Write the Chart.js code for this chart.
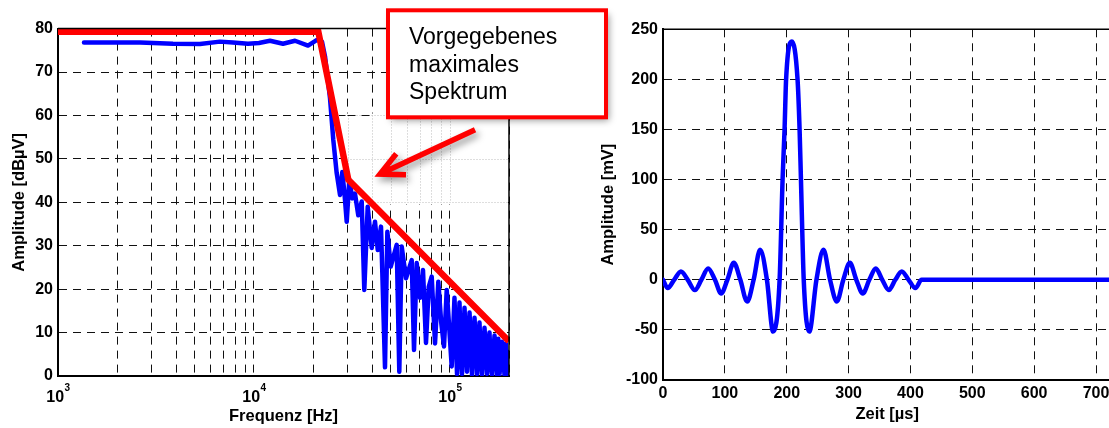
<!DOCTYPE html>
<html>
<head>
<meta charset="utf-8">
<script src="https://cdn.jsdelivr.net/npm/chart.js@4.4.0/dist/chart.umd.min.js"></script>
<style>
  html, body { margin: 0; padding: 0; background: #fff; overflow: hidden; width: 1109px; height: 428px; }
  #spectrum { position: absolute; left: 0; top: 0; z-index: 2; }
  #pulse { position: absolute; left: 590px; top: 0; z-index: 1; }
</style>
</head>
<body>
<canvas id="pulse" width="540" height="428"></canvas>
<canvas id="spectrum" width="620" height="428"></canvas>
<script>
// left: measured spectrum (Hz, dBµV)
const specFreq = [1357, 2620, 3860, 5300, 6700, 7810, 9320, 10600, 12070, 14060, 16190, 18860, 20960, 22230,
  23030, 24420, 25380, 26420, 27470, 28220, 28950, 29720, 30640, 31730, 32750, 34050, 35440, 36540, 38030,
  39860, 41430, 42800, 44460, 46600, 47900, 49840, 53460, 55120, 56700, 59640, 63770, 65520, 67630, 70300,
  72820, 75430, 77900, 80660, 83860, 87170, 90100, 93200, 96200, 98800, 102000, 105400, 108600, 111800,
  113500, 115150, 118600, 122100, 125800, 129500, 133400, 137400, 141400, 143500, 145600, 150000, 154500,
  159000, 161400, 163800, 168700, 173700, 176300, 178900, 184200, 189700, 192500, 195400, 200000];
const specLevel = [76.8, 76.8, 76.5, 76.45, 77.0, 76.8, 76.5, 76.7, 77.2, 76.5, 77.2, 76.1, 77.4, 77.0,
  73.6, 64, 54.4, 46.7, 41.7, 47, 42, 35.5, 45.2, 40.9, 42, 37, 40.2, 19.8, 39,
  29.5, 35.5, 29, 34.4, 2, 33.2, 25.2, 30.2, 1, 29.8, 22.5, 26.7, 6, 26, 18,
  24.4, 7.6, 20.5, 22.9, 7.5, 21.7, 12.5, 6.8, 19.8, 12, 2.2, 18, 0.5, 16.9,
  6, 0.5, 15.7, 1, 14.6, 0.3, 13.4, 0.5, 12.3, 4, 0.3, 11.1, 0.5,
  10, 3, 0.3, 9.3, 0.3, 8.6, 0.3, 7.9, 0.3, 7.5, 0.3, 5.5];

// given maximum spectrum (red)
const limitFreq = [1000, 21290, 30280, 200000];
const limitLevel = [79.3, 79.3, 45.2, 8];

const freqGrid = [1e3, 2e3, 3e3, 4e3, 5e3, 6e3, 7e3, 8e3, 9e3, 1e4, 2e4, 3e4, 4e4, 5e4, 6e4, 7e4, 8e4, 9e4, 1e5, 2e5];
const freqLabels = [1e3, 1e4, 1e5];
const levelTicks = [0, 10, 20, 30, 40, 50, 60, 70, 80];

// right: time signal (µs, mV)
const pulseTime = [0, 7.5, 18, 29, 40, 51.5, 62, 73, 84, 94, 104, 114.5, 125, 136, 146.5, 157, 168, 178,
  188.5, 193.3, 196.5, 199, 208.3, 217.5, 220.8, 223, 227.5, 236.5, 248, 259.5, 270, 281, 291.5, 302,
  312.5, 323, 333.5, 344, 354.5, 365, 375.5, 386, 397, 408, 418, 725];
const pulseVolt = [0, -8.3, 0, 8.3, 0, -10.3, 0, 11.3, 0, -13.7, 0, 17, 0, -21.7, 0, 30, 0, -51.7,
  0, 100, 150, 200, 237.7, 200, 150, 100, 0, -51.7, 0, 30, 0, -21.7, 0, 17,
  0, -13.7, 0, 11.3, 0, -10.3, 0, 8.3, 0, -8.3, 0, 0];
const timeTicks = [0, 100, 200, 300, 400, 500, 600, 700];
const voltTicks = [-100, -50, 0, 50, 100, 150, 200, 250];

const noteLines = ['Vorgegebenes', 'maximales', 'Spektrum'];
const arrowTip = [43950, 46.5];
const arrowTail = [134200, 56.7];

const FAMILY = "'Liberation Sans', Arial, Helvetica, sans-serif";
Chart.defaults.font.family = FAMILY;
Chart.defaults.color = '#000';

const tickFont = {size: 16, weight: 'bold'};
const titleFont = {size: 16.5, weight: 'bold'};
const gridStyle = {color: '#111', lineWidth: 1, drawTicks: false};
const borderStyle = {color: '#000', width: 2, dash: [8, 6]};

function toPoints(xs, ys) {
  return xs.map((x, i) => ({x: x, y: ys[i]}));
}

// top and right edges of the axes box
const boxPlugin = {
  id: 'axesBox',
  afterDatasetsDraw(chart) {
    const {ctx, chartArea: a} = chart;
    ctx.save();
    ctx.strokeStyle = '#000';
    ctx.lineWidth = 1.5;
    ctx.beginPath();
    ctx.moveTo(a.left, a.top);
    ctx.lineTo(a.right, a.top);
    ctx.lineTo(a.right, a.bottom);
    ctx.stroke();
    ctx.restore();
  }
};

// 10^n labels under the log axis
const decadePlugin = {
  id: 'decadeLabels',
  afterDraw(chart) {
    const {ctx, chartArea: a} = chart;
    const xs = chart.scales.x;
    ctx.save();
    ctx.fillStyle = '#000';
    ctx.textBaseline = 'alphabetic';
    freqLabels.forEach(v => {
      const px = xs.getPixelForValue(v);
      const exp = String(Math.round(Math.log10(v)));
      ctx.font = 'bold 16px ' + FAMILY;
      const w1 = ctx.measureText('10').width;
      ctx.font = 'bold 10px ' + FAMILY;
      const w2 = ctx.measureText(exp).width;
      const x0 = px - (w1 + w2) / 2;
      ctx.font = 'bold 16px ' + FAMILY;
      ctx.fillText('10', x0, a.bottom + 26);
      ctx.font = 'bold 10px ' + FAMILY;
      ctx.fillText(exp, x0 + w1 + 0.5, a.bottom + 14.5);
    });
    ctx.restore();
  }
};

// the pasted white patch with faint grid behind the arrow
const patchPlugin = {
  id: 'patch',
  beforeDatasetsDraw(chart) {
    const {ctx} = chart;
    const xs = chart.scales.x, ys = chart.scales.y;
    const l = xs.getPixelForValue(3e4) - 2, r = xs.getPixelForValue(2e5) - 1;
    const t = ys.getPixelForValue(60) - 2, b = ys.getPixelForValue(40) + 2;
    ctx.save();
    ctx.fillStyle = '#fff';
    ctx.fillRect(l, t, r - l, b - t);
    ctx.strokeStyle = '#bdbdbd';
    ctx.lineWidth = 1;
    ctx.setLineDash([1, 2]);
    ctx.beginPath();
    freqGrid.filter(v => v >= 3e4 && v < 2e5).forEach(v => {
      const px = Math.round(xs.getPixelForValue(v)) + 0.5;
      ctx.moveTo(px, t + 2);
      ctx.lineTo(px, b - 2);
    });
    [40, 50, 60].forEach(v => {
      const py = Math.round(ys.getPixelForValue(v)) + 0.5;
      ctx.moveTo(l + 2, py);
      ctx.lineTo(r, py);
    });
    ctx.stroke();
    ctx.strokeStyle = '#111';
    ctx.setLineDash([8, 6]);
    ctx.beginPath();
    const py = Math.round(ys.getPixelForValue(60)) + 0.5;
    ctx.moveTo(xs.getPixelForValue(3e4), py);
    ctx.lineTo(xs.getPixelForValue(4e4), py);
    ctx.stroke();
    ctx.restore();
  }
};

// callout box and arrow
const notePlugin = {
  id: 'note',
  afterDraw(chart) {
    const {ctx} = chart;
    const xs = chart.scales.x, ys = chart.scales.y;
    const tipX = xs.getPixelForValue(arrowTip[0]), tipY = ys.getPixelForValue(arrowTip[1]);
    const tailX = xs.getPixelForValue(arrowTail[0]), tailY = ys.getPixelForValue(arrowTail[1]);
    const ang = Math.atan2(tailY - tipY, tailX - tipX);
    const head = 26, spread = 0.46;
    ctx.save();
    ctx.shadowColor = 'rgba(0,0,0,0.4)';
    ctx.shadowBlur = 7;
    ctx.shadowOffsetX = 3;
    ctx.shadowOffsetY = 4;
    ctx.strokeStyle = '#ff0000';
    ctx.lineWidth = 5.5;
    ctx.lineJoin = 'miter';
    ctx.beginPath();
    ctx.moveTo(tailX, tailY);
    ctx.lineTo(tipX, tipY);
    ctx.moveTo(tipX + head * Math.cos(ang - spread), tipY + head * Math.sin(ang - spread));
    ctx.lineTo(tipX, tipY);
    ctx.lineTo(tipX + head * Math.cos(ang + spread), tipY + head * Math.sin(ang + spread));
    ctx.stroke();

    ctx.fillStyle = '#fff';
    ctx.fillRect(388, 10.3, 218, 107);
    ctx.shadowColor = 'transparent';
    ctx.strokeStyle = '#ff0000';
    ctx.lineWidth = 4;
    ctx.strokeRect(388, 10.3, 218, 107);
    ctx.fillStyle = '#000';
    ctx.font = '23px ' + FAMILY;
    ctx.textBaseline = 'alphabetic';
    noteLines.forEach((s, i) => ctx.fillText(s, 409, 44 + i * 27.5));
    ctx.restore();
  }
};

new Chart(document.getElementById('spectrum'), {
  type: 'line',
  data: {
    datasets: [
      {
        data: toPoints(limitFreq, limitLevel),
        borderColor: '#ff0000',
        borderWidth: 6.5,
        pointRadius: 0,
        borderJoinStyle: 'miter'
      },
      {
        data: toPoints(specFreq, specLevel),
        borderColor: '#0000ff',
        borderWidth: 4.5,
        pointRadius: 0,
        borderJoinStyle: 'round',
        borderCapStyle: 'round'
      }
    ]
  },
  options: {
    responsive: false,
    animation: false,
    layout: {padding: {top: 28.6, right: 111, left: 0, bottom: 0}},
    plugins: {legend: {display: false}, tooltip: {enabled: false}},
    scales: {
      x: {
        type: 'logarithmic',
        min: 1000,
        max: 200000,
        afterBuildTicks: axis => { axis.ticks = freqGrid.map(v => ({value: v})); },
        afterFit: axis => { axis.height = 52; },
        ticks: {display: false},
        grid: gridStyle,
        border: borderStyle,
        title: {display: true, text: 'Frequenz [Hz]', font: titleFont, padding: {top: 0, bottom: 2}}
      },
      y: {
        min: 0,
        max: 80,
        afterBuildTicks: axis => { axis.ticks = levelTicks.map(v => ({value: v})); },
        afterFit: axis => { axis.width = 58; },
        ticks: {font: tickFont, padding: 5},
        grid: gridStyle,
        border: borderStyle,
        title: {display: true, text: 'Amplitude [dBµV]', font: titleFont, padding: {top: 10, bottom: 0}}
      }
    }
  },
  plugins: [patchPlugin, boxPlugin, decadePlugin, notePlugin]
});

new Chart(document.getElementById('pulse'), {
  type: 'line',
  data: {
    datasets: [{
      data: toPoints(pulseTime, pulseVolt),
      borderColor: '#0000ff',
      borderWidth: 4.5,
      pointRadius: 0,
      cubicInterpolationMode: 'monotone',
      borderJoinStyle: 'round',
      borderCapStyle: 'round'
    }]
  },
  options: {
    responsive: false,
    animation: false,
    layout: {padding: {top: 29.3, right: 18.5, left: 0, bottom: 0}},
    plugins: {legend: {display: false}, tooltip: {enabled: false}},
    scales: {
      x: {
        type: 'linear',
        min: 0,
        max: 725,
        afterBuildTicks: axis => { axis.ticks = timeTicks.map(v => ({value: v})); },
        afterFit: axis => { axis.height = 48; },
        ticks: {font: tickFont, padding: 4, maxRotation: 0, autoSkip: false},
        grid: gridStyle,
        border: borderStyle,
        title: {display: true, text: 'Zeit [µs]', font: titleFont, padding: {top: 0, bottom: 4}}
      },
      y: {
        min: -100,
        max: 250,
        afterBuildTicks: axis => { axis.ticks = voltTicks.map(v => ({value: v})); },
        afterFit: axis => { axis.width = 73; },
        ticks: {font: tickFont, padding: 5},
        grid: gridStyle,
        border: borderStyle,
        title: {display: true, text: 'Amplitude [mV]', font: titleFont, padding: {top: 9, bottom: 0}}
      }
    }
  },
  plugins: [boxPlugin]
});
</script>
</body>
</html>
